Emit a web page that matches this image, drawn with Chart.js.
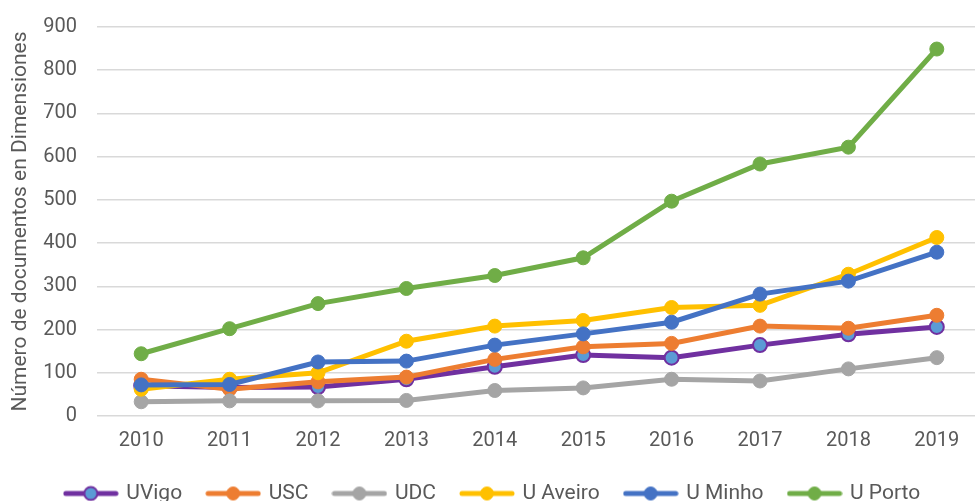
<!DOCTYPE html>
<html>
<head>
<meta charset="utf-8">
<script src="https://cdn.jsdelivr.net/npm/chart.js@4/dist/chart.umd.min.js"></script>
<style>
  html, body { margin: 0; padding: 0; background: #fff; overflow: hidden; }
  #wrap { position: relative; width: 990px; height: 528px; margin-top: -5px; }
</style>
</head>
<body>
<div id="wrap"><canvas id="chart"></canvas></div>
<script>
const years = ['2010', '2011', '2012', '2013', '2014', '2015', '2016', '2017', '2018', '2019'];
const uvigo = [70, 66, 67, 85, 114, 141, 135, 164, 189, 206];
const usc = [85, 62, 79, 90, 131, 160, 168, 208, 203, 233];
const udc = [33, 35, 35, 36, 59, 65, 85, 81, 109, 135];
const uaveiro = [62, 85, 100, 173, 208, 221, 251, 256, 328, 413];
const uminho = [72, 73, 125, 127, 164, 190, 217, 282, 312, 379];
const uporto = [144, 202, 260, 295, 325, 366, 497, 583, 622, 849];

const grey = '#595959';

function series(label, data, color, fill, order) {
    return {
        label: label,
        data: data,
        borderColor: color,
        backgroundColor: fill,
        borderWidth: 5,
        pointRadius: 7,
        pointHoverRadius: 7,
        pointBackgroundColor: fill,
        pointBorderColor: color,
        pointBorderWidth: fill === color ? 1 : 2,
        tension: 0,
        order: order
    };
}

const datasets = [
    series('UVigo', uvigo, '#7030A0', '#5B9BD5', 6),
    series('USC', usc, '#ED7D31', '#ED7D31', 5),
    series('UDC', udc, '#A5A5A5', '#A5A5A5', 4),
    series('U Aveiro', uaveiro, '#FFC000', '#FFC000', 3),
    series('U Minho', uminho, '#4472C4', '#4472C4', 2),
    series('U Porto', uporto, '#70AD47', '#70AD47', 1)
];

// little line-with-dot icon for the legend
function legendIcon(color, fill) {
    const c = document.createElement('canvas');
    c.width = 56;
    c.height = 18;
    const g = c.getContext('2d');
    g.strokeStyle = color;
    g.lineWidth = 5;
    g.lineCap = 'round';
    g.beginPath();
    g.moveTo(3, 9);
    g.lineTo(53, 9);
    g.stroke();
    g.beginPath();
    g.arc(28, 9, 6.5, 0, Math.PI * 2);
    g.fillStyle = fill;
    g.fill();
    g.lineWidth = fill === color ? 1 : 2;
    g.stroke();
    return c;
}
const icons = datasets.map(d => legendIcon(d.borderColor, d.pointBackgroundColor));

// pull the legend a bit closer to the axis
const legendNudge = {
    id: 'legendNudge',
    afterLayout(chart) {
        if (chart.legend) {
            chart.legend.top -= 9;
            chart.legend.bottom -= 9;
        }
    }
};

Chart.defaults.font.family = 'Roboto, "Noto Sans", sans-serif';
Chart.defaults.color = grey;

new Chart(document.getElementById('chart'), {
    type: 'line',
    data: { labels: years, datasets: datasets },
    plugins: [legendNudge],
    options: {
        responsive: true,
        maintainAspectRatio: false,
        animation: false,
        layout: { padding: { top: 21, right: 4, bottom: 0, left: 0 } },
        plugins: {
            tooltip: { enabled: false },
            legend: {
                position: 'bottom',
                labels: {
                    usePointStyle: true,
                    pointStyleWidth: 50,
                    padding: 26,
                    color: grey,
                    font: { size: 21 },
                    sort: (a, b) => a.datasetIndex - b.datasetIndex,
                    generateLabels: function (chart) {
                        const items = Chart.defaults.plugins.legend.labels.generateLabels(chart);
                        items.forEach(it => { it.pointStyle = icons[it.datasetIndex]; });
                        return items;
                    }
                }
            }
        },
        scales: {
            x: {
                offset: true,
                grid: { display: false, drawTicks: false },
                border: { display: false },
                ticks: { padding: 13, color: grey, font: { size: 20 }, maxRotation: 0 }
            },
            y: {
                min: 0,
                max: 900,
                afterFit: s => { s.width = 97; },
                grid: { color: '#D9D9D9', lineWidth: 1.5, drawTicks: false },
                border: { display: false },
                ticks: { stepSize: 100, padding: 20, color: grey, font: { size: 20 } },
                title: {
                    display: true,
                    text: 'Número de documentos en Dimensiones',
                    color: grey,
                    font: { size: 21 },
                    padding: { top: 8, bottom: 0 }
                }
            }
        }
    }
});
</script>
</body>
</html>
